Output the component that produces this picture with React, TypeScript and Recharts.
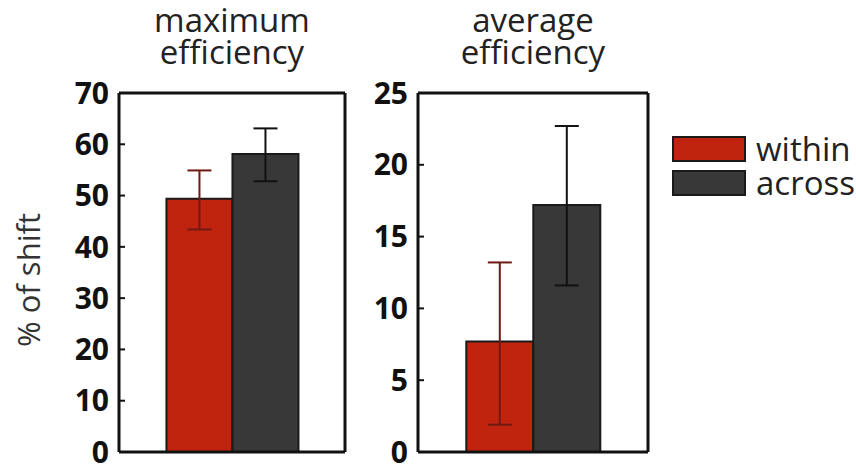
import { Bar, BarChart, XAxis, YAxis, ErrorBar, Legend } from "recharts"

const panels = ["maximum efficiency", "average efficiency"]
const seriesNames = ["within", "across"]

// mean and error bar bounds per panel
const withinMean = [49.4, 7.7]
const withinLow = [43.4, 1.9]
const withinHigh = [54.9, 13.2]
const acrossMean = [58.1, 17.2]
const acrossLow = [52.8, 11.6]
const acrossHigh = [63.1, 22.7]

const yTicks = [
  [0, 10, 20, 30, 40, 50, 60, 70],
  [0, 5, 10, 15, 20, 25],
]

const RED = "#c0240f"
const GREY = "#383838"
const FONT = "'Open Sans', sans-serif"

const rows = panels.map((name, i) => [
  {
    name,
    within: withinMean[i],
    withinErr: [withinMean[i] - withinLow[i], withinHigh[i] - withinMean[i]],
    across: acrossMean[i],
    acrossErr: [acrossMean[i] - acrossLow[i], acrossHigh[i] - acrossMean[i]],
  },
])

function SwatchLegend({ payload }: any) {
  return (
    <div style={{ fontFamily: FONT, fontSize: 33, color: "#222" }}>
      {(payload || []).map((p: any) => (
        <div key={p.value} style={{ display: "flex", alignItems: "center", height: 34 }}>
          <span
            style={{
              display: "inline-block",
              width: 74,
              height: 26,
              background: p.color,
              border: "2px solid #1a1a1a",
              boxSizing: "border-box",
              marginRight: 10,
            }}
          />
          <span style={{ lineHeight: "34px" }}>{p.value}</span>
        </div>
      ))}
    </div>
  )
}

type PanelProps = {
  idx: number
  left: number
  width: number
  yWidth: number
  marginRight: number
  legend?: boolean
}

function Panel({ idx, left, width, yWidth, marginRight, legend }: PanelProps) {
  const ticks = yTicks[idx]
  const domain = [0, ticks[ticks.length - 1]]
  const tickStyle = { fontFamily: FONT, fontSize: 30, fontWeight: 700, fill: "#111" }
  const axisLine = { stroke: "#111", strokeWidth: 3 }
  const tickLine = { stroke: "#111", strokeWidth: 2 }
  return (
    <div style={{ position: "absolute", left, top: 0 }}>
      <BarChart
        width={width}
        height={466}
        data={rows[idx]}
        margin={{ top: 92, right: marginRight, bottom: 13, left: 0 }}
        barCategoryGap="21%"
        barGap={0}
      >
        <XAxis dataKey="name" xAxisId="bottom" height={1} tick={false} tickLine={false} axisLine={axisLine} />
        <XAxis
          dataKey="name"
          xAxisId="top"
          orientation="top"
          height={1}
          tick={false}
          tickSize={-6}
          tickLine={tickLine}
          axisLine={axisLine}
        />
        <YAxis
          yAxisId="left"
          width={yWidth}
          domain={domain}
          ticks={ticks}
          interval={0}
          tick={tickStyle}
          tickSize={-6}
          tickMargin={16}
          tickLine={tickLine}
          axisLine={axisLine}
        />
        <YAxis
          yAxisId="right"
          orientation="right"
          width={1}
          domain={domain}
          ticks={ticks}
          interval={0}
          tick={false}
          tickSize={-6}
          tickLine={tickLine}
          axisLine={axisLine}
        />
        {legend && (
          <Legend
            layout="horizontal"
            align="center"
            verticalAlign="middle"
            itemSorter={(item: any) => seriesNames.indexOf(item.value)}
            content={<SwatchLegend />}
            wrapperStyle={{ left: 312, top: 132, width: 196 }}
          />
        )}
        <Bar
          dataKey="within"
          name={seriesNames[0]}
          xAxisId="bottom"
          yAxisId="left"
          fill={RED}
          stroke="#1a1a1a"
          strokeWidth={2}
          isAnimationActive={false}
        >
          <ErrorBar dataKey="withinErr" direction="y" width={12} stroke="#6e1a12" strokeWidth={2} />
        </Bar>
        <Bar
          dataKey="across"
          name={seriesNames[1]}
          xAxisId="bottom"
          yAxisId="left"
          fill={GREY}
          stroke="#1a1a1a"
          strokeWidth={2}
          isAnimationActive={false}
        >
          <ErrorBar dataKey="acrossErr" direction="y" width={12} stroke="#111" strokeWidth={2} />
        </Bar>
      </BarChart>
    </div>
  )
}

function Title({ text, cx }: { text: string; cx: number }) {
  const [a, b] = text.split(" ")
  return (
    <div
      style={{
        position: "absolute",
        left: cx - 120,
        top: 4,
        width: 240,
        textAlign: "center",
        fontFamily: FONT,
        fontSize: 33,
        lineHeight: "32px",
        color: "#222",
      }}
    >
      {a}
      <br />
      {b}
    </div>
  )
}

export default function App() {
  return (
    <div style={{ position: "absolute", left: 0, top: 0, width: 856, height: 466, background: "#fff", overflow: "hidden" }}>
      <Panel idx={0} left={0} width={360} yWidth={119} marginRight={14} />
      <Panel idx={1} left={360} width={496} yWidth={58} marginRight={207} legend />
      <Title text={panels[0]} cx={232} />
      <Title text={panels[1]} cx={533} />
      <div
        style={{
          position: "absolute",
          left: 28,
          top: 280,
          transform: "translate(-50%, -50%) rotate(-90deg)",
          whiteSpace: "nowrap",
          fontFamily: FONT,
          fontSize: 31,
          color: "#333",
        }}
      >
        % of shift
      </div>
    </div>
  )
}
